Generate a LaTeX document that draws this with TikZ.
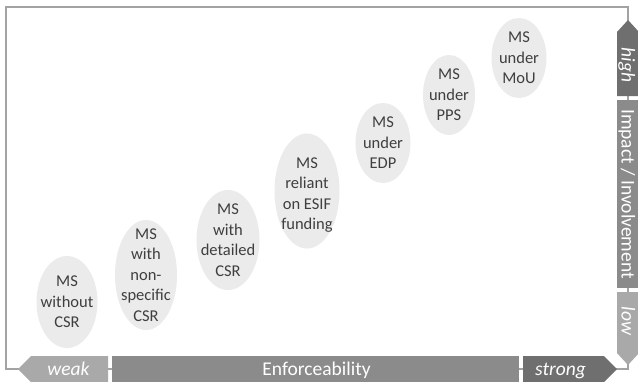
\documentclass[tikz,border=0pt]{standalone}
\usepackage{fontspec}
\setmainfont{Carlito}
\usetikzlibrary{shapes.geometric}
\definecolor{barDark}{HTML}{6F6F6F}
\definecolor{barMid}{HTML}{8B8B8B}
\definecolor{barLight}{HTML}{A9A9A9}
\definecolor{blobFill}{HTML}{EBEBEB}
\definecolor{blobText}{HTML}{3F3F3F}
\definecolor{frameCol}{HTML}{A3A3A3}
\begin{document}
\begin{tikzpicture}[x=1pt,y=-1pt,
  blob/.style={ellipse, fill=blobFill, inner sep=0pt},
  blobtext/.style={align=center, text=blobText, inner sep=0pt,
    font=\fontsize{16.5}{20.5}\selectfont},
  bartext/.style={text=white, inner sep=0pt, anchor=base,
    font=\fontsize{19.5}{22}\selectfont},
  baritext/.style={bartext, font=\fontsize{19.5}{22}\selectfont\itshape},
  frameline/.style={draw=frameCol, line width=1.4pt},
]
\useasboundingbox (0,0) rectangle (638,381);
\fill[white] (0,0) rectangle (638,381);

% frame and axis lines
\coordinate (weaktip) at (18,369);
\coordinate (strongtip) at (617,369);
\coordinate (hightip) at (628,20);
\coordinate (lowtip) at (628,365);
\coordinate (bl) at (6,369);
\coordinate (tl) at (6,7);
\coordinate (tr) at (628,7);
\coordinate (br) at (628,369);
\draw[frameline] (weaktip) -- (bl) -- (tl) -- (tr) -- (hightip);
\draw[frameline] (strongtip) -- (br) -- (lowtip);
\draw[frameline] (weaktip) -- (strongtip);
\draw[frameline] (hightip) -- (lowtip);

% bottom axis bars
\fill[barLight] (weaktip) -- (31,356) -- (108,356) -- (108,382) -- (31,382) -- cycle;
\fill[barMid] (112,356) rectangle (519,382);
\fill[barDark] (523,356) -- (604,356) -- (strongtip) -- (604,382) -- (523,382) -- cycle;
% right axis bars
\fill[barDark] (hightip) -- (639,32) -- (639,96) -- (617,96) -- (617,32) -- cycle;
\fill[barMid] (617,100) rectangle (639,288);
\fill[barLight] (617,292) -- (639,292) -- (639,353) -- (lowtip) -- (617,353) -- cycle;

\node[baritext] (weak) at (68.5,375.5) {weak};
\node[bartext] (enf) at (316.5,375.5) {Enforceability};
\node[baritext] (strong) at (560.5,375.5) {strong};
\node[baritext, rotate=-90] (high) at (621.5,65) {high};
\node[bartext, rotate=-90] (impact) at (621.5,194) {Impact / Involvement};
\node[baritext, rotate=-90] (low) at (621.5,321) {low};

% ellipses
\node[blob, minimum width=61pt, minimum height=92pt] (e1) at (67,302) {};
\node[blob, minimum width=62pt, minimum height=110pt] (e2) at (146,275) {};
\node[blob, minimum width=63pt, minimum height=100pt] (e3) at (228,240) {};
\node[blob, minimum width=65pt, minimum height=115pt] (e4) at (307,191) {};
\node[blob, minimum width=55pt, minimum height=80pt] (e5) at (383,143) {};
\node[blob, minimum width=52pt, minimum height=80pt] (e6) at (449,95) {};
\node[blob, minimum width=55pt, minimum height=80pt] (e7) at (519,58) {};

\node[blobtext] (t1) at (e1) {MS\\without\\CSR};
\node[blobtext] (t2) at (e2) {MS\\with\\non-\\specific\\CSR};
\node[blobtext] (t3) at (e3) {MS\\with\\detailed\\CSR};
\node[blobtext] (t4) at ([yshift=-4pt]e4) {MS\\reliant\\on ESIF\\funding};
\node[blobtext] (t5) at (e5) {MS\\under\\EDP};
\node[blobtext] (t6) at (e6) {MS\\under\\PPS};
\node[blobtext] (t7) at (e7) {MS\\under\\MoU};
\end{tikzpicture}
\end{document}
